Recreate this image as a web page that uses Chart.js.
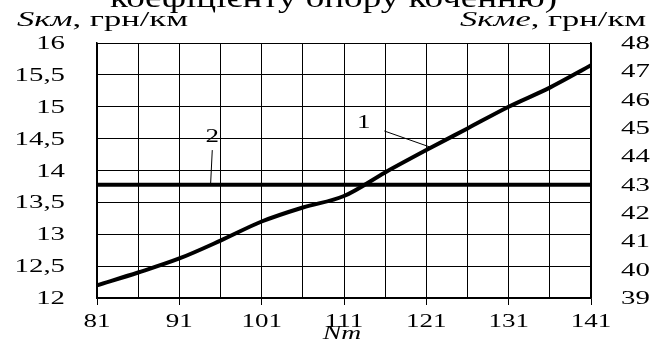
<!DOCTYPE html>
<html>
<head>
<meta charset="utf-8">
<script src="https://cdn.jsdelivr.net/npm/chart.js@4"></script>
<style>
  html, body { margin: 0; padding: 0; background: #fff; }
  #wrap { width: 659px; height: 347px; }
</style>
</head>
<body>
<div id="wrap"><canvas id="chart" width="659" height="347"></canvas></div>
<script>
// Nm values along the x axis
const nmValues = [81, 86, 91, 96, 101, 106, 111, 116, 121, 126, 131, 136, 141];
// curve 1: Sкм, грн/км (left axis)
const skmValues = [12.2, 12.4, 12.62, 12.9, 13.2, 13.42, 13.6, 13.97, 14.32, 14.66, 15.0, 15.3, 15.65];
// line 2: Sкме, грн/км (right axis)
const skmeNm = [81, 141];
const skmeValues = [43, 43];

const leftTitle = ["Sкм", ", грн/км"];
const rightTitle = ["Sкме", ", грн/км"];
const xTitle = "Nm";
const topText = "коефіцієнту опору коченню)";

const serif = "'Liberation Serif', 'Times New Roman', serif";
const comma = (v) => String(v).replace(".", ",");
const stretch = 1.6;

// the source figure uses horizontally stretched Times, so text is drawn with a scale
const stretchedText = (ctx, text, px, py, font, align, sx) => {
  ctx.save();
  ctx.font = font;
  const w = ctx.measureText(text).width * sx;
  let left = px;
  if (align === "center") left = px - w / 2;
  if (align === "right") left = px - w;
  ctx.translate(left, py);
  ctx.scale(sx, 1);
  ctx.textAlign = "left";
  ctx.fillText(text, 0, 0);
  ctx.restore();
};

const textPlugin = {
  id: "texts",
  afterDraw(chart) {
    const ctx = chart.ctx;
    const x = chart.scales.x;
    const y = chart.scales.y;
    const y2 = chart.scales.y2;
    ctx.save();
    ctx.fillStyle = "#000";
    ctx.textBaseline = "alphabetic";
    const tickFont = "18px " + serif;

    // tick labels, placed from the scales' own ticks
    y.ticks.forEach((t) => {
      stretchedText(ctx, comma(t.value), 65, y.getPixelForValue(t.value) + 6, tickFont, "right", stretch);
    });
    y2.ticks.forEach((t) => {
      stretchedText(ctx, String(t.value), 621, y2.getPixelForValue(t.value) + 6, tickFont, "left", stretch);
    });
    x.ticks.forEach((t) => {
      if ((t.value - 81) % 10 !== 0) return;
      stretchedText(ctx, String(t.value), x.getPixelForValue(t.value), 327, tickFont, "center", 1.5);
    });

    // clipped heading at the very top
    ctx.font = "27px " + serif;
    const hw = ctx.measureText(topText).width;
    stretchedText(ctx, topText, 110, 7, ctx.font, "left", 447 / hw);

    // axis titles: italic symbol followed by regular units
    const drawTitle = (parts, x0, x1, py) => {
      const fi = "italic 20px " + serif;
      const fr = "20px " + serif;
      ctx.font = fi;
      const w1 = ctx.measureText(parts[0]).width;
      ctx.font = fr;
      const w2 = ctx.measureText(parts[1]).width;
      const sx = (x1 - x0) / (w1 + w2);
      stretchedText(ctx, parts[0], x0, py, fi, "left", sx);
      stretchedText(ctx, parts[1], x0 + w1 * sx, py, fr, "left", sx);
    };
    drawTitle(leftTitle, 17, 188, 26);
    drawTitle(rightTitle, 460, 646, 26);

    // x axis title
    stretchedText(ctx, xTitle, x.getPixelForValue(111) - 2, 339, "italic 19px " + serif, "center", 1.45);

    // curve labels with leader lines
    stretchedText(ctx, "1", x.getPixelForValue(113.4), y.getPixelForValue(14.66), "18px " + serif, "center", 1.5);
    stretchedText(ctx, "2", x.getPixelForValue(95), y.getPixelForValue(14.45), "18px " + serif, "center", 1.5);
    ctx.lineWidth = 1;
    ctx.strokeStyle = "#000";
    ctx.beginPath();
    ctx.moveTo(x.getPixelForValue(115.9), y.getPixelForValue(14.62));
    ctx.lineTo(x.getPixelForValue(121.4), y.getPixelForValue(14.37));
    ctx.moveTo(x.getPixelForValue(95), y.getPixelForValue(14.32));
    ctx.lineTo(x.getPixelForValue(94.8), y.getPixelForValue(13.79));
    ctx.stroke();
    ctx.restore();
  }
};

new Chart(document.getElementById("chart"), {
  type: "line",
  data: {
    datasets: [
      {
        label: "1",
        data: nmValues.map((n, i) => ({ x: n, y: skmValues[i] })),
        yAxisID: "y",
        borderColor: "#000",
        borderWidth: 4,
        pointRadius: 0,
        cubicInterpolationMode: "monotone",
      },
      {
        label: "2",
        data: skmeNm.map((n, i) => ({ x: n, y: skmeValues[i] })),
        yAxisID: "y2",
        borderColor: "#000",
        borderWidth: 4,
        pointRadius: 0,
      },
    ],
  },
  options: {
    responsive: false,
    animation: false,
    layout: { padding: { top: 43, left: 0, right: 0, bottom: 0 } },
    plugins: { legend: { display: false }, tooltip: { enabled: false } },
    scales: {
      x: {
        type: "linear",
        min: 81,
        max: 141,
        afterFit: (s) => { s.height = 49; },
        border: { color: "#000", width: 1.5 },
        grid: {
          color: "#000",
          lineWidth: 1,
          tickLength: 7,
          tickColor: (c) => ((c.tick.value - 81) % 10 === 0 ? "#000" : "rgba(0,0,0,0)"),
        },
        ticks: { stepSize: 5, autoSkip: false, display: false },
      },
      y: {
        position: "left",
        min: 12,
        max: 16,
        afterFit: (s) => { s.width = 97; },
        border: { color: "#000", width: 1.5 },
        grid: { color: "#000", lineWidth: 1, tickLength: 0 },
        ticks: { stepSize: 0.5, display: false },
      },
      y2: {
        position: "right",
        min: 39,
        max: 48,
        afterFit: (s) => { s.width = 68; },
        border: { color: "#000", width: 1.5 },
        grid: { display: false },
        ticks: { stepSize: 1, display: false },
      },
    },
  },
  plugins: [textPlugin],
});
</script>
</body>
</html>
